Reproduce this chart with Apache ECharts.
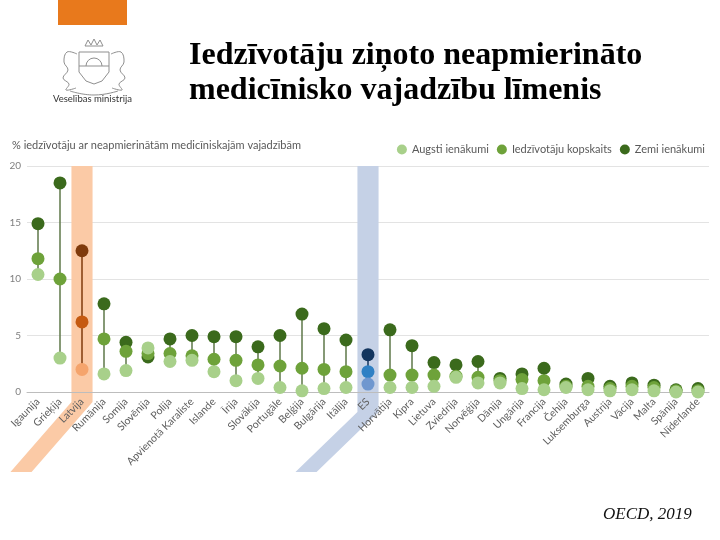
<!DOCTYPE html>
<html>
<head>
<meta charset="utf-8">
<script src="https://cdn.jsdelivr.net/npm/echarts@6/dist/echarts.min.js"></script>
<style>html,body{margin:0;padding:0;background:#fff;}#c{width:720px;height:540px;}</style>
</head>
<body>
<div id="c"></div>
<script>
// ---- data ----
const categories = ['Igaunija','Grieķija','Latvija','Rumānija','Somija','Slovēnija','Polija','Apvienotā Karaliste','Islande','Īrija','Slovākija','Portugāle','Beļģija','Bulgārija','Itālija','ES','Horvātija','Kipra','Lietuva','Zviedrija','Norvēģija','Dānija','Ungārija','Francija','Čehija','Luksemburga','Austrija','Vācija','Malta','Spānija','Nīderlande'];
const highIncome = [10.4, 3.0, 2.0, 1.6, 1.9, 3.9, 2.7, 2.8, 1.8, 1.0, 1.2, 0.4, 0.1, 0.3, 0.4, 0.7, 0.4, 0.4, 0.5, 1.3, 0.8, 0.8, 0.3, 0.2, 0.4, 0.2, 0.1, 0.2, 0.1, 0.0, 0.0];
const totalPop   = [11.8, 10.0, 6.2, 4.7, 3.6, 3.4, 3.4, 3.2, 2.9, 2.8, 2.4, 2.3, 2.1, 2.0, 1.8, 1.8, 1.5, 1.5, 1.5, 1.4, 1.3, 1.0, 1.1, 1.0, 0.5, 0.5, 0.3, 0.5, 0.4, 0.1, 0.1];
const lowIncome  = [14.9, 18.5, 12.5, 7.8, 4.4, 3.1, 4.7, 5.0, 4.9, 4.9, 4.0, 5.0, 6.9, 5.6, 4.6, 3.3, 5.5, 4.1, 2.6, 2.4, 2.7, 1.2, 1.6, 2.1, 0.7, 1.2, 0.5, 0.8, 0.6, 0.2, 0.3];
const seriesNames = ['Augsti ienākumi', 'Iedzīvotāju kopskaits', 'Zemi ienākumi'];
const highlighted = ['Latvija', 'ES'];
const yTicks = [0, 5, 10, 15, 20];
const yAxisTitle = '% iedzīvotāju ar neapmierinātām medicīniskajām vajadzībām';
const titleText = 'Iedzīvotāju ziņoto neapmierināto\nmedicīnisko vajadzību līmenis';
const sourceText = 'OECD, 2019';
const orgText = 'Veselības ministrija';

// ---- styles ----
const GREEN = {high: '#a8d08a', mid: '#6ea23a', low: '#3b6a1c'};
const LV = {high: '#f5a46c', mid: '#c55a11', low: '#7f3a0b', band: '#fbcaa6', line: '#7f3a0b'};
const EU = {high: '#6f97cf', mid: '#2f80c4', low: '#13355e', band: '#c5d1e6', line: '#13355e'};
const LINE = '#5e7748';
const lvIdx = categories.indexOf('Latvija');
const euIdx = categories.indexOf('ES');

function pick(key) {
  return function (p) {
    if (p.dataIndex === lvIdx) return LV[key];
    if (p.dataIndex === euIdx) return EU[key];
    return GREEN[key];
  };
}

const rangeData = categories.map((c, i) => [i, Math.min(highIncome[i], totalPop[i], lowIncome[i]), Math.max(highIncome[i], totalPop[i], lowIncome[i])]);
const bandData = highlighted.map(n => [categories.indexOf(n)]);

const ST = {fill: 'none', stroke: '#8f8f8f', lineWidth: 1};

const chart = echarts.init(document.getElementById('c'), null, {renderer: 'canvas'});
chart.setOption({
  animation: false,
  backgroundColor: '#fff',
  title: {
    text: titleText, left: 184, top: 33,
    textStyle: {fontFamily: 'Liberation Serif', fontWeight: 'bold', fontSize: 32, lineHeight: 35, color: '#000'}
  },
  legend: {
    data: seriesNames, right: 10, top: 139, icon: 'circle', itemWidth: 10, itemHeight: 10, itemGap: 8,
    textStyle: {fontFamily: 'Lato', fontSize: 11, color: '#595959'}
  },
  grid: {left: 27, right: 11, top: 166, bottom: 148, containLabel: false},
  xAxis: {
    type: 'category', data: categories, z: 5,
    axisLine: {show: true, lineStyle: {color: '#bdbdbd'}},
    axisTick: {show: false},
    axisLabel: {rotate: 45, interval: 0, margin: 8, color: '#606060', fontFamily: 'Lato', fontSize: 10.5}
  },
  yAxis: {
    type: 'value', min: 0, max: 20, interval: 5,
    axisLine: {show: false}, axisTick: {show: false},
    axisLabel: {color: '#7f7f7f', fontFamily: 'Lato', fontSize: 10, margin: 6,
      formatter: v => yTicks.includes(v) ? String(v) : ''},
    splitLine: {lineStyle: {color: '#e3e3e3'}}
  },
  graphic: [
    {type: 'rect', shape: {x: 58, y: 0, width: 69, height: 25}, style: {fill: '#e8791c'}},
    {type: 'group', x: 94, y: 66, children: [
      {type: 'polygon', shape: {points: [[-15,-14],[15,-14],[15,6],[8,15],[0,18],[-8,15],[-15,6]]}, style: ST},
      {type: 'arc', shape: {cx: 0, cy: 0, r: 8, startAngle: Math.PI, endAngle: 2 * Math.PI}, style: ST},
      {type: 'line', shape: {x1: -15, y1: 0, x2: 15, y2: 0}, style: ST},
      {type: 'polyline', shape: {points: [[-9,-20],[-6,-26],[-3,-21],[0,-27],[3,-21],[6,-26],[9,-20],[-9,-20]]}, style: ST},
      {type: 'polyline', shape: {points: [[-17,-12],[-27,-14],[-30,-4],[-26,4],[-31,12],[-25,18],[-28,24],[-18,22]], smooth: 0.4}, style: ST},
      {type: 'polyline', shape: {points: [[17,-12],[27,-14],[30,-4],[26,4],[31,12],[25,18],[28,24],[18,22]], smooth: 0.4}, style: ST},
      {type: 'polyline', shape: {points: [[-24,25],[0,29],[24,25]], smooth: 0.5}, style: ST}
    ]},
    {type: 'text', left: 53, top: 94, style: {text: orgText, fontFamily: 'Lato', fontSize: 9.5, fill: '#333'}},
    {type: 'text', left: 12, top: 140, style: {text: yAxisTitle, fontFamily: 'Lato', fontSize: 11, fill: '#595959'}},
    {type: 'text', left: 603, top: 506, style: {text: sourceText, fontFamily: 'Liberation Serif', fontStyle: 'italic', fontSize: 17, fill: '#111'}}
  ],
  series: [
    {
      type: 'custom', name: 'band', z: 1, silent: true, data: bandData,
      renderItem: function (params, api) {
        const i = api.value(0);
        const top = api.coord([i, 20]);
        const zero = api.coord([i, 0]);
        const w = api.size([1, 0])[0] * 0.96;
        const xl = top[0] - w / 2, xr = top[0] + w / 2;
        const isLv = i === lvIdx;
        const yk = zero[1] + (isLv ? 10 : 20);
        const yb = zero[1] + 80;
        const dx = yb - yk + (isLv ? -9 : 2);
        return {
          type: 'polygon',
          shape: {points: [[xl, top[1]], [xr, top[1]], [xr, yk], [xr - dx, yb], [xl - dx, yb], [xl, yk]]},
          style: {fill: isLv ? LV.band : EU.band}
        };
      }
    },
    {
      type: 'custom', name: 'range', z: 3, silent: true, data: rangeData,
      renderItem: function (params, api) {
        const i = api.value(0);
        const a = api.coord([i, api.value(1)]);
        const b = api.coord([i, api.value(2)]);
        const col = i === lvIdx ? LV.line : (i === euIdx ? EU.line : LINE);
        return {type: 'line', shape: {x1: a[0], y1: a[1], x2: b[0], y2: b[1]}, style: {stroke: col, lineWidth: 1.5}};
      }
    },
    {name: seriesNames[2], type: 'scatter', z: 4, data: lowIncome, symbolSize: 13, color: GREEN.low, itemStyle: {color: pick('low'), opacity: 1}},
    {name: seriesNames[1], type: 'scatter', z: 5, data: totalPop, symbolSize: 13, color: GREEN.mid, itemStyle: {color: pick('mid'), opacity: 1}},
    {name: seriesNames[0], type: 'scatter', z: 6, data: highIncome, symbolSize: 13, color: GREEN.high, itemStyle: {color: pick('high'), opacity: 1}}
  ]
});
</script>
</body>
</html>
